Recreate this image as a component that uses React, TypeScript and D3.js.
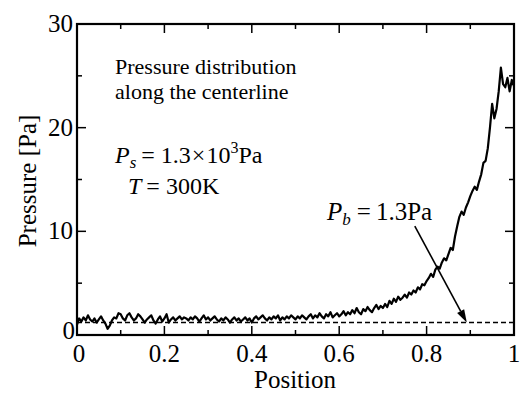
import React from "react";
import * as d3 from "d3";

const positions: number[] = d3.range(0, 201).map((i) => i / 200);
const pressure: number[] = [
  1.0, 1.6, 1.3, 1.7, 1.4, 1.9, 1.5, 1.3, 1.6, 1.2, 1.5, 1.8, 1.4, 1.1, 0.6, 0.9, 1.4, 1.7, 1.6, 2.1,
  2.0, 1.6, 1.4, 1.9, 2.1, 1.7, 1.4, 1.6, 2.0, 1.8, 1.5, 1.2, 1.5, 1.7, 1.9, 1.4, 1.1, 1.5, 1.8, 1.3,
  1.6, 2.0, 1.2, 1.5, 1.7, 1.4, 1.6, 1.8, 1.5, 1.7, 1.6, 1.4, 1.7, 1.5, 1.8, 1.6, 1.3, 1.6, 1.9, 1.5,
  1.7, 1.4, 1.6, 1.8, 1.5, 1.3, 1.6, 1.4, 1.7, 1.5, 1.2, 1.5, 1.7, 1.4, 1.6, 1.3, 1.5, 1.7, 1.4, 1.6,
  1.2, 1.6, 1.8, 1.5, 1.7, 1.9, 1.6, 1.4, 1.7, 1.5, 1.8, 1.6, 1.9, 1.4, 1.7, 1.5, 1.8, 1.6, 1.9, 1.7,
  1.5, 1.8, 1.6, 1.9, 1.7, 1.5, 1.8, 2.0, 1.6, 1.9, 1.7, 2.1, 1.8, 1.6, 2.0, 1.8, 2.2, 1.7, 1.9, 2.1,
  1.8, 2.0, 2.3, 1.9, 2.2, 2.0, 2.4, 2.1, 2.6, 2.2, 2.0, 2.5, 2.3, 2.7, 2.4, 2.2, 2.6, 2.9, 2.5, 2.8,
  2.6, 3.0, 2.7, 3.3, 3.0, 3.5, 3.2, 3.7, 3.4, 3.6, 3.9, 3.6, 4.1, 3.9, 4.3, 4.1, 4.6, 4.4, 4.9, 4.8,
  5.2, 5.5, 5.9, 5.6, 6.3, 6.6, 6.4, 7.0, 7.4, 7.2, 7.8, 8.4, 8.2, 9.5, 10.5, 11.4, 11.9, 11.6, 12.3, 12.8,
  13.4, 13.9, 14.3, 14.0, 14.8, 15.5, 16.6, 16.8, 18.0, 20.0, 22.3, 20.9, 21.8, 23.5, 25.8, 24.2, 23.9, 24.8, 23.5, 24.6,
  24.0,
];
const xTicks: number[] = [0, 0.2, 0.4, 0.6, 0.8, 1];
const xTickLabels: string[] = ["0", "0.2", "0.4", "0.6", "0.8", "1"];
const xMinor: number[] = [0.1, 0.3, 0.5, 0.7, 0.9];
const yTicks: number[] = [0, 10, 20, 30];
const yMinor: number[] = [5, 15, 25];
const baselinePressure = 1.2;
const arrowFrom: [number, number] = [0.773, 10.5];
const arrowTo: [number, number] = [0.892, baselinePressure];

const W = 523;
const H = 394;
const L = 77;
const R = 514;
const T = 24;
const B = 335;
const FONT = "Liberation Serif";
const ts = (size: number) => ({ fontFamily: FONT, fontSize: size + "px" });

export default function App() {
  const x = d3.scaleLinear().domain([0, 1]).range([L, R]);
  const y = d3.scaleLinear().domain([0, 30]).range([B, T]);
  const line = d3
    .line<number>()
    .x((_, i) => x(positions[i]))
    .y((d) => y(d));
  const ax1 = x(arrowFrom[0]);
  const ay1 = y(arrowFrom[1]);
  const ax2 = x(arrowTo[0]);
  const ay2 = y(arrowTo[1]);
  const ang = Math.atan2(ay2 - ay1, ax2 - ax1);
  const hl = 13;
  const hw = 4;
  const bx = ax2 - hl * Math.cos(ang);
  const by = ay2 - hl * Math.sin(ang);
  const head = `M${ax2},${ay2} L${bx + hw * Math.sin(ang)},${by - hw * Math.cos(ang)} L${bx - hw * Math.sin(ang)},${by + hw * Math.cos(ang)} Z`;

  return (
    <svg width={W} height={H} style={{ position: "absolute", left: 0, top: 0, background: "#fff" }}>
      <rect x={0} y={0} width={W} height={H} fill="#fff" />
      <line x1={x(0)} x2={x(1)} y1={y(baselinePressure)} y2={y(baselinePressure)} stroke="#000" strokeWidth={1.4} strokeDasharray="5,3" />
      <path d={line(pressure) || ""} fill="none" stroke="#000" strokeWidth={2.2} strokeLinejoin="round" />
      {xTicks.map((t) => (
        <g key={"xt" + t}>
          <line x1={x(t)} x2={x(t)} y1={B} y2={B - 9} stroke="#000" strokeWidth={1.5} />
          <line x1={x(t)} x2={x(t)} y1={T} y2={T + 9} stroke="#000" strokeWidth={1.5} />
        </g>
      ))}
      {xMinor.map((t) => (
        <g key={"xm" + t}>
          <line x1={x(t)} x2={x(t)} y1={B} y2={B - 5} stroke="#000" strokeWidth={1.5} />
          <line x1={x(t)} x2={x(t)} y1={T} y2={T + 5} stroke="#000" strokeWidth={1.5} />
        </g>
      ))}
      {yTicks.map((t) => (
        <g key={"yt" + t}>
          <line x1={L} x2={L + 9} y1={y(t)} y2={y(t)} stroke="#000" strokeWidth={1.5} />
          <line x1={R} x2={R - 9} y1={y(t)} y2={y(t)} stroke="#000" strokeWidth={1.5} />
        </g>
      ))}
      {yMinor.map((t) => (
        <g key={"ym" + t}>
          <line x1={L} x2={L + 5} y1={y(t)} y2={y(t)} stroke="#000" strokeWidth={1.5} />
          <line x1={R} x2={R - 5} y1={y(t)} y2={y(t)} stroke="#000" strokeWidth={1.5} />
        </g>
      ))}
      <rect x={L} y={T} width={R - L} height={B - T} fill="none" stroke="#000" strokeWidth={2.2} />
      {xTicks.map((t, i) => (
        <text key={"xl" + t} x={x(t) + (t === 0 ? 2 : 0)} y={362} textAnchor="middle" style={ts(25)}>
          {xTickLabels[i]}
        </text>
      ))}
      {yTicks.map((t) => (
        <text key={"yl" + t} x={t === 0 ? 75 : 73} y={y(t) + (t === 0 ? 4 : 8)} textAnchor="end" style={ts(25)}>
          {t}
        </text>
      ))}
      <text x={295} y={388} textAnchor="middle" style={ts(25)}>Position</text>
      <text transform={`translate(36,181) rotate(-90)`} textAnchor="middle" style={ts(25)}>Pressure [Pa]</text>
      <text x={115} y={74} style={ts(22)}>Pressure distribution</text>
      <text x={115} y={99} style={ts(22)}>along the centerline</text>
      <text x={115} y={163} style={ts(24)}>
        <tspan fontStyle="italic">P</tspan>
        <tspan fontStyle="italic" style={{ fontSize: "17px" }} dy={5}>s</tspan>
        <tspan dy={-5} dx={5}>=</tspan>
        <tspan dx={6}>1.3</tspan>
        <tspan dx={1}>×</tspan>
        <tspan dx={1}>10</tspan>
        <tspan style={{ fontSize: "16px" }} dy={-10}>3</tspan>
        <tspan dy={10}>Pa</tspan>
      </text>
      <text x={128} y={194} style={ts(24)}>
        <tspan fontStyle="italic">T</tspan>
        <tspan dx={5}>=</tspan>
        <tspan dx={6}>300K</tspan>
      </text>
      <text x={327} y={220} style={ts(25)}>
        <tspan fontStyle="italic">P</tspan>
        <tspan fontStyle="italic" style={{ fontSize: "17px" }} dy={5}>b</tspan>
        <tspan dy={-5} dx={6}>=</tspan>
        <tspan dx={5}>1.3Pa</tspan>
      </text>
      <line x1={ax1} y1={ay1} x2={bx} y2={by} stroke="#000" strokeWidth={1.6} />
      <path d={head} fill="#000" />
    </svg>
  );
}
